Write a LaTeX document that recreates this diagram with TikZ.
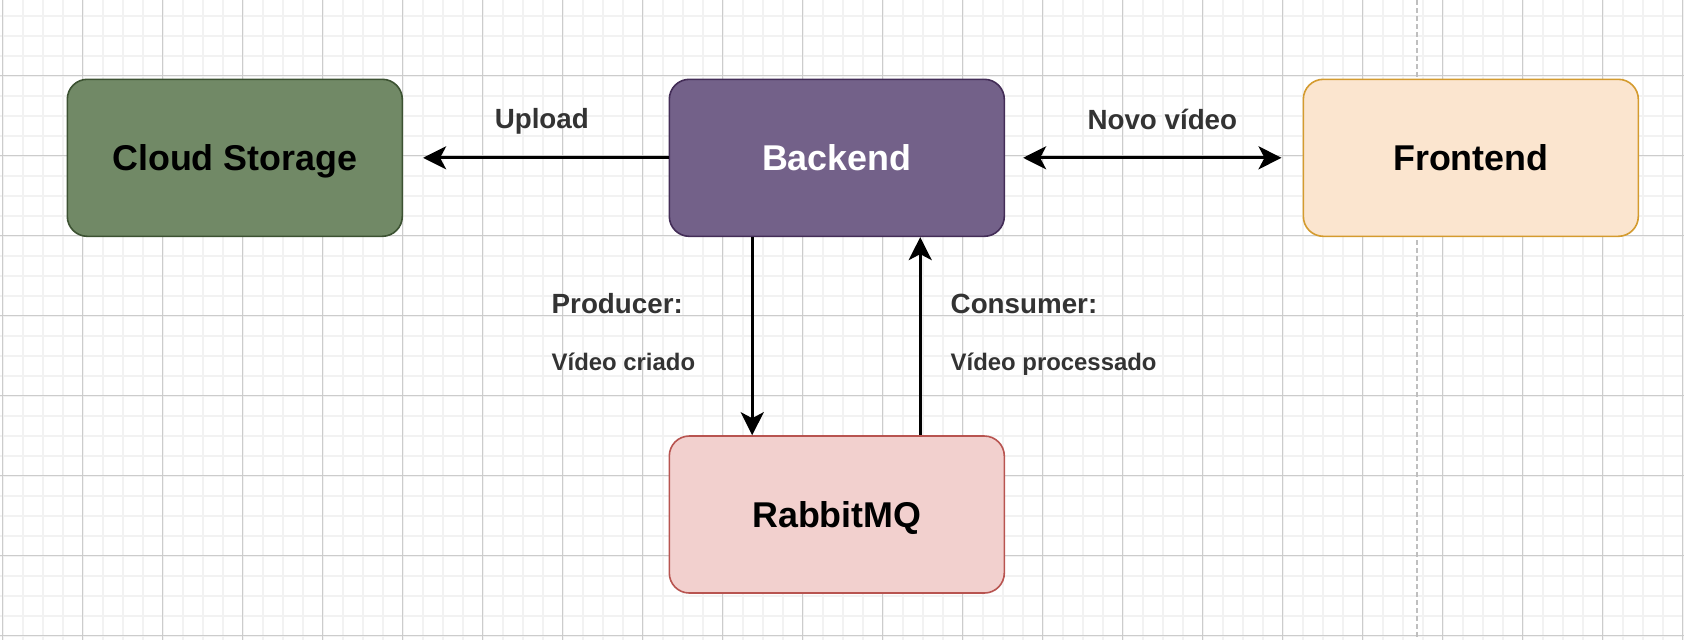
\documentclass[tikz,border=0pt]{standalone}
\usepackage{fontspec}
\setmainfont{Liberation Sans}
\usetikzlibrary{arrows.meta, positioning}

\definecolor{storagefill}{HTML}{718966}
\definecolor{storageline}{HTML}{3C5232}
\definecolor{serverfill}{HTML}{736189}
\definecolor{serverline}{HTML}{432D57}
\definecolor{clientfill}{HTML}{FBE5CF}
\definecolor{clientline}{HTML}{D49B2F}
\definecolor{queuefill}{HTML}{F2D0CE}
\definecolor{queueline}{HTML}{B85450}
\definecolor{labelgray}{HTML}{333333}

\tikzstyle{box} = [rectangle, rounded corners=0.2cm, minimum width=3.35cm, minimum height=1.57cm, text centered, text height=0.256cm, text depth=0pt, line width=0.016cm, font=\fontsize{10.2}{12}\selectfont\bfseries]
\tikzstyle{storage} = [box, draw=storageline, fill=storagefill]
\tikzstyle{server} = [box, draw=serverline, fill=serverfill, text=white]
\tikzstyle{client} = [box, draw=clientline, fill=clientfill]
\tikzstyle{queue} = [box, draw=queueline, fill=queuefill]
\tikzstyle{edge_label} = [inner sep=0pt, text=labelgray, font=\fontsize{7.9}{9}\selectfont\bfseries]
\tikzstyle{edge_note} = [inner sep=0pt, text=labelgray, font=\fontsize{6.8}{8}\selectfont\bfseries]
\tikzstyle{arrow} = [line width=0.03cm, ->, >={Stealth[length=0.23cm, width=0.23cm, inset=0.06cm]}]
\tikzstyle{grid_minor} = [line width=0.02cm, draw=black!5]
\tikzstyle{grid_major} = [line width=0.01cm, draw=black!20]
\tikzstyle{page_break} = [line width=0.02cm, draw=black!25, dash pattern=on 0.05cm off 0.03cm]

\begin{document}
\begin{tikzpicture}[node distance=6.02cm]
    \useasboundingbox (0,0) rectangle (16.84,-6.40);
    \fill [white] (0,0) rectangle (16.84,-6.40);

    % background grid
    \foreach \i in {0,...,84}
        \draw [grid_minor] ({0.027+0.2*\i},0) -- ++(0,-6.40);
    \foreach \i in {0,...,31}
        \draw [grid_minor] (0,{-0.157-0.2*\i}) -- ++(16.84,0);
    \foreach \i in {0,...,21}
        \draw [grid_major] ({0.027+0.8*\i},0) -- ++(0,-6.40);
    \foreach \i in {0,...,7}
        \draw [grid_major] (0,{-0.757-0.8*\i}) -- ++(16.84,0);
    \draw [page_break] (14.17,0) -- (14.17,-6.40);

    \node (cloud)    [storage] at (2.348,-1.578) {Cloud Storage};
    \node (backend)  [server, right of=cloud] {Backend};
    \node (frontend) [client, right of=backend, xshift=0.32cm] {Frontend};
    \node (rabbit)   [queue, below of=backend, node distance=3.567cm] {RabbitMQ};

\draw [arrow, shorten >=0.2cm] (backend) -- (cloud)
    node (upload) [edge_label, midway, anchor=base, xshift=0.06cm, yshift=0.29cm] {Upload};

\draw [arrow, <->, shorten <=0.18cm, shorten >=0.21cm] (backend) -- (frontend)
    node (new_video) [edge_label, midway, anchor=base, xshift=0.085cm, yshift=0.28cm] {Novo vídeo};

\draw [arrow] ([xshift=-0.846cm]backend.south) -- ([xshift=-0.846cm]rabbit.north)
    node (producer) [edge_label, pos=0, anchor=base west, xshift=-2.02cm, yshift=-0.76cm] {Producer:}
    node (created)  [edge_note, pos=0, anchor=base west, xshift=-2.02cm, yshift=-1.33cm] {Vídeo criado};

\draw [arrow] ([xshift=0.834cm]rabbit.north) -- ([xshift=0.834cm]backend.south)
    node (consumer)  [edge_label, pos=1, anchor=base west, xshift=0.29cm, yshift=-0.76cm] {Consumer:}
    node (processed) [edge_note, pos=1, anchor=base west, xshift=0.29cm, yshift=-1.33cm] {Vídeo processado};

\end{tikzpicture}
\end{document}
